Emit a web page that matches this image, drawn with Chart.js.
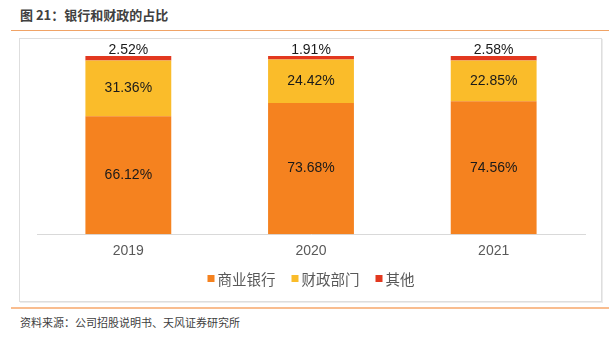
<!DOCTYPE html>
<html>
<head>
<meta charset="utf-8">
<script src="https://cdn.jsdelivr.net/npm/chart.js@4.4.1/dist/chart.umd.min.js"></script>
<style>
  html, body { margin: 0; padding: 0; background: #fff; }
  body { width: 610px; height: 337px; position: relative; overflow: hidden; font-family: "Noto Sans CJK SC", sans-serif; }
  #title { position: absolute; left: 20px; top: 5px; font-size: 13px; font-weight: bold; color: #404040; }
  #topRule { position: absolute; left: 11px; top: 30px; width: 598px; height: 0; border-top: 1.5px solid #f0a366; }
  #frame { position: absolute; left: 19px; top: 38px; width: 581px; height: 262px; border: 1px solid #dedede; box-shadow: 1px 1px 0 #ececec; }
  #bottomRule { position: absolute; left: 11px; top: 307px; width: 598px; height: 0; border-top: 2px solid #f9bd8f; }
  #source { position: absolute; left: 20px; top: 314px; font-size: 11px; color: #404040; }
  #wrap { position: absolute; left: 0; top: 0; width: 610px; height: 337px; }
</style>
</head>
<body>
<div id="title">图 21：银行和财政的占比</div>
<div id="topRule"></div>
<div id="frame"></div>
<div id="bottomRule"></div>
<div id="source">资料来源：公司招股说明书、天风证券研究所</div>
<div id="wrap"><canvas id="shareChart" width="610" height="337"></canvas></div>
<script>
// years and share of each holder (%)
const years = ["2019", "2020", "2021"];
const bankShare = [66.12, 73.68, 74.56];
const financeShare = [31.36, 24.42, 22.85];
const otherShare = [2.52, 1.91, 2.58];

const seriesNames = ["商业银行", "财政部门", "其他"];
const seriesColors = ["#f5821f", "#fabc2a", "#e2381f"];

// percentage labels: inside for the big segments, above the bar for the thin top one
const valueLabels = {
  id: "valueLabels",
  afterDatasetsDraw(chart) {
    const ctx = chart.ctx;
    ctx.save();
    ctx.font = "14px 'Liberation Sans', Arial, sans-serif";
    ctx.fillStyle = "#1a1a1a";
    ctx.textAlign = "center";
    chart.data.datasets.forEach((ds, i) => {
      const meta = chart.getDatasetMeta(i);
      meta.data.forEach((bar, j) => {
        const txt = ds.data[j].toFixed(2) + "%";
        if (i === 2) {
          ctx.textBaseline = "alphabetic";
          ctx.fillText(txt, bar.x, bar.y - 2);
        } else {
          ctx.textBaseline = "middle";
          ctx.fillText(txt, bar.x, (bar.y + bar.base) / 2);
        }
      });
    });
    ctx.restore();
  }
};

// compact legend row under the axis: small square, tight gap, then name
const rowLegend = {
  id: "rowLegend",
  afterDraw(chart) {
    const ctx = chart.ctx;
    const area = chart.chartArea;
    const box = 7, gapIn = 3, gapOut = 16, y = 279;
    ctx.save();
    ctx.font = "14.5px 'Noto Sans CJK SC', sans-serif";
    ctx.textBaseline = "middle";
    const items = chart.data.datasets.map(ds => ({
      text: ds.label, color: ds.backgroundColor, w: ctx.measureText(ds.label).width
    }));
    let total = 0;
    items.forEach((it, k) => { total += box + gapIn + it.w + (k ? gapOut : 0); });
    let x = (area.left + area.right) / 2 - total / 2;
    items.forEach(it => {
      ctx.fillStyle = it.color;
      ctx.fillRect(x, y - box / 2 - 0.5, box, box);
      ctx.fillStyle = "#595959";
      ctx.fillText(it.text, x + box + gapIn, y);
      x += box + gapIn + it.w + gapOut;
    });
    ctx.restore();
  }
};

const datasets = [bankShare, financeShare, otherShare].map((vals, i) => ({
  label: seriesNames[i],
  data: vals,
  backgroundColor: seriesColors[i],
  borderWidth: 0,
  categoryPercentage: 1,
  barPercentage: 0.47
}));

new Chart(document.getElementById("shareChart"), {
  type: "bar",
  data: { labels: years, datasets: datasets },
  plugins: [valueLabels, rowLegend],
  options: {
    responsive: false,
    animation: false,
    layout: { padding: { left: 37, right: 25, top: 56, bottom: 68 } },
    scales: {
      x: {
        stacked: true,
        grid: { display: false, drawTicks: false },
        border: { display: true, color: "#d9d9d9", width: 1 },
        ticks: { color: "#595959", padding: 9, font: { size: 14, family: "'Liberation Sans', Arial, sans-serif" } }
      },
      y: {
        stacked: true,
        display: false,
        min: 0,
        max: 100
      }
    },
    plugins: {
      tooltip: { enabled: false },
      legend: { display: false }
    }
  }
});
</script>
</body>
</html>
